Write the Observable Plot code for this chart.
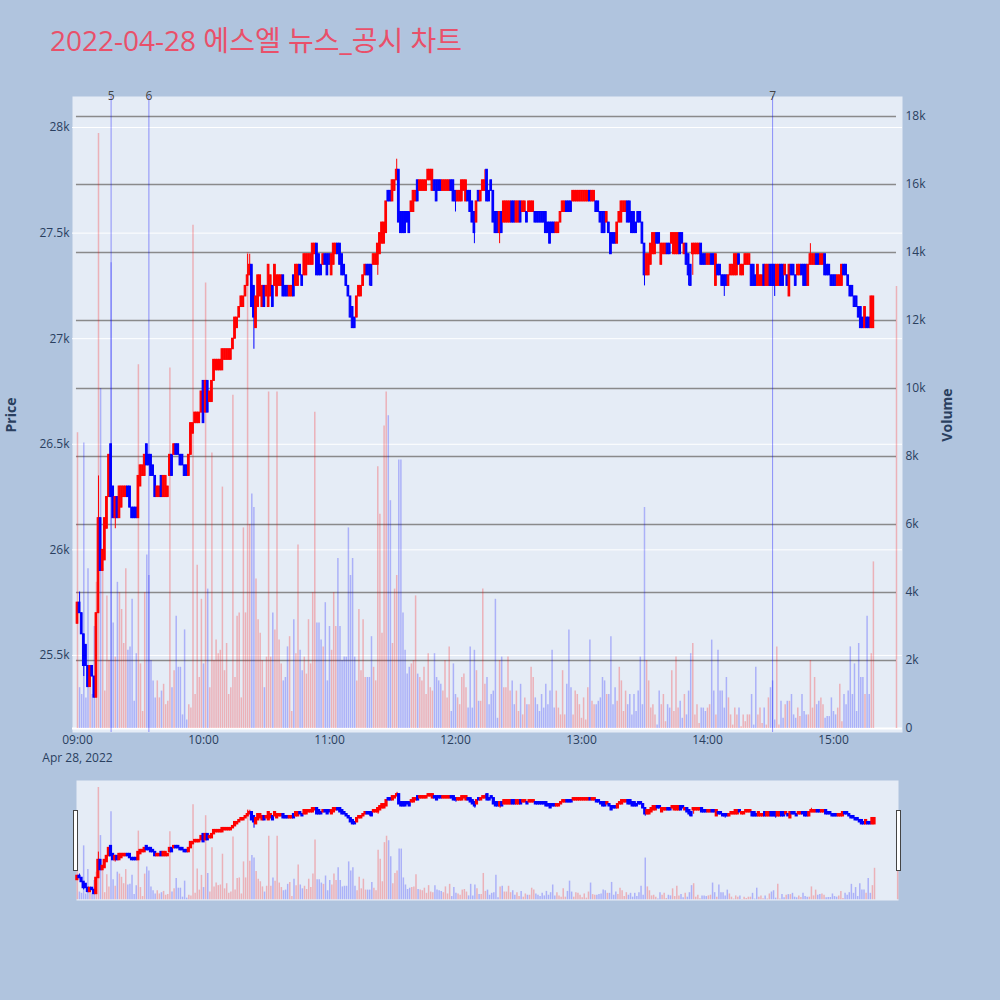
<!DOCTYPE html>
<html>
<head>
<meta charset="utf-8">
<script src="https://cdn.jsdelivr.net/npm/d3@7"></script>
<script src="https://cdn.jsdelivr.net/npm/@observablehq/plot@0.6"></script>
<style>
  body { margin: 0; background: #b0c4de; }
  #chart { position: relative; width: 1000px; height: 1000px; background: #b0c4de; font-family: "Open Sans", "Noto Sans CJK KR", sans-serif; overflow: hidden; }
  #chart svg { position: absolute; left: 0; }
  .title { position: absolute; left: 50px; top: 19px; font-size: 28px; color: #e9506a; white-space: nowrap; }
  .axis-title { position: absolute; font-size: 14px; font-weight: bold; color: #2a3f5f; transform: translate(-50%, -50%) rotate(-90deg); white-space: nowrap; }
  .handle { position: absolute; width: 3px; height: 59px; background: #fff; border: 1px solid #444; }
</style>
</head>
<body>
<div id="chart">
  <div class="title">2022-04-28 에스엘 뉴스_공시 차트</div>
  <div class="axis-title" style="left:10px; top:415px">Price</div>
  <div class="axis-title" style="left:946px; top:415px">Volume</div>
</div>
<script>
// one candle per minute from 09:00 (index = minutes after the open), plus the 15:30 closing auction
const opens = [
  25650,25750,25700,25600,25550,25450,25350,25450,25400,25300,
  25700,26150,25900,25950,26100,26250,26500,26300,26150,26250,
  26150,26200,26250,26250,26300,26300,26200,26200,26200,26150,
  26300,26350,26350,26500,26450,26450,26400,26350,26250,26250,
  26350,26250,26250,26250,26350,26450,26450,26500,26500,26450,
  26450,26400,26400,26350,26450,26550,26600,26600,26600,26650,
  26800,26650,26800,26700,26700,26800,26850,26850,26850,26850,
  26900,26900,26900,26900,26950,27000,27050,27100,27150,27150,
  27200,27250,27300,27350,27250,27050,27150,27200,27150,27250,
  27200,27150,27200,27250,27250,27200,27250,27250,27300,27250,
  27250,27200,27200,27300,27250,27250,27350,27300,27300,27300,
  27350,27350,27350,27400,27450,27400,27350,27350,27400,27400,
  27400,27300,27350,27400,27450,27450,27400,27350,27300,27250,
  27200,27150,27100,27100,27200,27200,27250,27300,27350,27350,
  27350,27350,27350,27350,27400,27450,27450,27500,27700,27700,
  27650,27700,27750,27800,27600,27600,27600,27600,27600,27600,
  27600,27650,27750,27700,27700,27700,27700,27750,27750,27700,
  27750,27750,27750,27750,27700,27700,27700,27700,27750,27750,
  27700,27650,27650,27650,27700,27650,27700,27700,27650,27600,
  27550,27700,27650,27700,27700,27800,27700,27750,27700,27600,
  27600,27500,27600,27550,27550,27550,27550,27650,27650,27550,
  27550,27650,27600,27600,27600,27600,27600,27600,27600,27600,
  27600,27600,27600,27600,27550,27550,27550,27550,27500,27500,
  27550,27600,27600,27650,27650,27650,27650,27650,27650,27650,
  27650,27650,27650,27650,27700,27650,27650,27650,27650,27600,
  27600,27600,27550,27550,27500,27500,27500,27450,27550,27550,
  27600,27600,27650,27650,27600,27600,27550,27600,27600,27550,
  27450,27300,27300,27350,27400,27400,27500,27500,27350,27400,
  27400,27450,27450,27450,27400,27400,27400,27500,27500,27400,
  27450,27400,27350,27400,27400,27400,27400,27450,27400,27400,
  27350,27350,27400,27400,27250,27350,27350,27300,27300,27300,
  27250,27300,27300,27300,27300,27400,27300,27300,27350,27350,
  27350,27350,27350,27300,27250,27250,27250,27350,27250,27250,
  27350,27350,27350,27250,27250,27350,27350,27300,27300,27200,
  27350,27350,27300,27300,27300,27350,27350,27350,27250,27350,
  27350,27350,27400,27400,27350,27350,27400,27350,27350,27300,
  27300,27300,27250,27250,27250,27350,27350,27300,27250,27250,
  27200,27200,27150,27150,27100,27050,27100,27100,27050,27050
];
const closes = [
  25750,25700,25600,25450,25450,25350,25450,25400,25300,25700,
  26150,25900,26000,26150,26250,26450,26250,26150,26250,26150,
  26300,26300,26300,26300,26250,26200,26150,26150,26150,26350,
  26400,26400,26450,26400,26400,26350,26350,26250,26300,26300,
  26250,26350,26350,26300,26450,26350,26500,26450,26450,26400,
  26400,26350,26350,26450,26600,26600,26650,26650,26650,26750,
  26600,26800,26650,26750,26800,26900,26900,26900,26900,26950,
  26950,26950,26950,26950,27000,27100,27100,27150,27200,27200,
  27250,27300,27350,27150,27100,27200,27300,27300,27250,27150,
  27250,27350,27300,27150,27350,27300,27300,27300,27200,27200,
  27200,27250,27250,27200,27350,27350,27300,27250,27400,27400,
  27400,27400,27450,27450,27300,27300,27300,27400,27350,27300,
  27350,27400,27450,27450,27400,27350,27300,27300,27250,27200,
  27100,27050,27050,27200,27250,27250,27300,27350,27300,27300,
  27250,27400,27400,27450,27500,27550,27550,27650,27650,27650,
  27750,27750,27800,27550,27500,27500,27500,27550,27500,27650,
  27700,27700,27650,27750,27750,27750,27750,27800,27800,27800,
  27700,27650,27700,27700,27750,27750,27750,27750,27700,27650,
  27650,27700,27700,27750,27750,27750,27650,27600,27550,27500,
  27650,27650,27700,27750,27750,27650,27650,27700,27550,27500,
  27500,27600,27500,27650,27650,27650,27650,27550,27550,27650,
  27650,27550,27650,27650,27550,27650,27650,27650,27550,27550,
  27550,27550,27550,27500,27500,27450,27500,27500,27550,27550,
  27600,27650,27650,27600,27600,27600,27700,27700,27700,27700,
  27700,27700,27700,27700,27650,27700,27700,27600,27600,27550,
  27500,27500,27600,27500,27400,27450,27450,27550,27600,27650,
  27650,27650,27550,27550,27500,27500,27500,27550,27550,27450,
  27300,27400,27400,27450,27500,27500,27450,27450,27450,27450,
  27450,27400,27400,27500,27500,27500,27500,27400,27450,27450,
  27350,27300,27250,27450,27450,27450,27450,27350,27350,27350,
  27400,27400,27350,27350,27400,27300,27300,27250,27250,27250,
  27300,27350,27350,27400,27400,27350,27350,27350,27400,27400,
  27400,27250,27250,27250,27350,27300,27300,27250,27350,27350,
  27250,27250,27250,27350,27350,27250,27250,27350,27250,27350,
  27300,27300,27250,27350,27350,27300,27250,27250,27350,27400,
  27400,27400,27350,27350,27400,27400,27300,27300,27300,27250,
  27250,27250,27300,27300,27350,27300,27300,27250,27200,27200,
  27150,27150,27100,27050,27050,27150,27050,27050,27200,27200
];
const volumes = [
  8700,1200,1000,8400,900,4700,1200,1000,3000,4300,
  17500,10000,4700,1100,3900,2000,13700,3100,2100,4300,
  4000,3500,2500,4700,2300,2400,3800,800,2200,10700,
  1900,500,4000,5100,4500,2000,1400,900,1400,900,
  1100,1300,700,800,10600,1200,1700,3300,1800,1800,
  400,2900,250,700,600,14800,1000,4800,1500,3800,
  1900,13100,4100,1200,8100,2000,2600,2200,2300,7100,
  1700,2500,1000,1200,9800,1500,3300,3400,900,5900,
  3400,14000,6000,6900,6500,4400,3200,2800,2000,1200,
  2100,9900,2100,3400,2900,9900,2600,1900,1400,1500,
  2400,2700,500,3200,2200,5400,2300,1700,2100,1600,
  3200,1900,4000,9300,3100,3100,2600,2400,3700,1400,
  3000,2300,4000,3000,5000,3000,2000,2100,2100,5900,
  4500,5000,2100,1400,3500,1700,3200,1500,1500,1500,
  2700,1800,1400,7700,6300,2800,8900,9900,9200,6700,
  2500,4100,4500,7900,7900,3400,2300,1600,1800,1900,
  2000,3900,1600,1500,1400,1800,1000,2200,1200,1100,
  2200,1500,1400,1300,1100,2000,900,2400,500,1900,
  1000,900,700,1500,1600,1200,600,2400,600,2300,
  1700,800,800,4100,1300,1500,700,1000,1100,3800,
  300,2000,2100,1200,1200,2100,1100,1400,700,1100,
  500,1300,400,900,700,700,1800,1500,900,700,
  500,1000,600,1300,700,1100,2300,600,1100,600,
  400,1700,400,1300,2900,1200,400,1100,1000,700,
  300,900,250,1200,2600,800,700,700,800,900,
  1500,1400,1000,1000,2700,700,1200,800,1800,1400,
  500,1100,700,1000,400,1000,500,1100,2100,700,
  6500,2000,1400,600,700,400,100,1100,700,1000,
  200,700,600,1700,500,2100,600,800,300,1000,
  400,1100,2200,2500,400,700,150,600,600,500,
  600,700,2600,1100,400,2300,1100,1100,600,1500,
  900,400,100,600,400,600,50,400,200,400,
  400,1000,100,1800,400,600,150,600,100,900,
  1200,1400,250,2400,100,800,300,700,800,800,
  1000,400,300,600,350,1000,500,400,400,2000,
  600,1500,700,800,900,700,300,350,350,900,
  500,400,600,1300,200,1000,700,1100,2400,1000,
  1900,500,2500,1500,1500,1000,3300,1000,2200,4900
];
const auction = {minute: 390, open: 27300, close: 27300, volume: 13000};
// [minute, low, high] where the shadow reaches past the body
const wicks = [
  [1, 25700, 25800], [3, 25400, 25600], [10, 25700, 26350], [18, 26100, 26250],
  [81, 27250, 27400], [82, 27300, 27400], [84, 26950, 27250], [139, 27250, 27350],
  [143, 27300, 27450], [152, 27750, 27850], [180, 27600, 27700], [189, 27450, 27600],
  [194, 27700, 27800], [201, 27450, 27600], [270, 27250, 27450], [291, 27250, 27400],
  [293, 27300, 27450], [308, 27200, 27300], [332, 27200, 27350], [349, 27350, 27450]
];

const priceTicks = [25500, 26000, 26500, 27000, 27500, 28000];
const volumeTicks = [0, 2000, 4000, 6000, 8000, 10000, 12000, 14000, 16000, 18000];
const timeTicks = ["09:00", "10:00", "11:00", "12:00", "13:00", "14:00", "15:00"];
const dateLabel = "Apr 28, 2022";
const markerLabels = ["5", "6", "7"];
const markerTimes = ["09:16", "09:34", "14:31"];

const BASE = Date.UTC(2022, 3, 28, 9, 0);
const at = m => new Date(BASE + m * 60000);
const parseTime = s => { const [h, mm] = s.split(":").map(Number); return at((h - 9) * 60 + mm); };

const candles = opens.map((o, m) => ({t: at(m), open: o, close: closes[m], volume: volumes[m]}));
candles.push({t: at(auction.minute), open: auction.open, close: auction.close, volume: auction.volume});
for (const d of candles) {
  d.low = Math.min(d.open, d.close);
  d.high = Math.max(d.open, d.close);
  d.dir = d.close >= d.open ? "up" : "down";
}
for (const [m, lo, hi] of wicks) { candles[m].low = lo; candles[m].high = hi; }

const markers = markerLabels.map((label, i) => ({label, t: parseTime(markerTimes[i])}));
const hours = timeTicks.map(parseTime);

const RED = "#ff0000", BLUE = "#0000ff";
const color = {domain: ["up", "down"], range: [RED, BLUE]};
const priceDomain = [25135, 28147];
const volumeDomain = [-118, 18588];
const xMain = {type: "utc", domain: [at(-2.38), at(392.86)]};
const xSlider = {type: "utc", domain: [at(-0.4), at(390.4)], axis: null};
const halfBody = 24000; // ms

const mainDims = {width: 1000, height: 770, marginTop: 96, marginRight: 98, marginBottom: 38, marginLeft: 72};
const sliderDims = {width: 1000, height: 130, marginTop: 5, marginRight: 102, marginBottom: 5, marginLeft: 76};
const style = {background: "transparent", fontFamily: "'Open Sans', sans-serif", fontSize: "12px", color: "#2a3f5f", overflow: "visible"};

const bodyMarks = sw => [
  Plot.ruleX(candles, {x: "t", y1: "low", y2: "high", stroke: "dir", strokeWidth: 1}),
  Plot.rect(candles, {
    x1: d => new Date(+d.t - halfBody), x2: d => new Date(+d.t + halfBody),
    y1: "open", y2: "close", fill: "dir", stroke: "dir", strokeWidth: sw
  })
];

const priceBase = Plot.plot({
  ...mainDims, style, x: xMain, y: {domain: priceDomain},
  marks: [
    Plot.frame({fill: "#e5ecf6", stroke: null}),
    Plot.ruleY(priceTicks, {stroke: "#ffffff", strokeWidth: 1}),
    Plot.axisY(priceTicks, {anchor: "left", tickSize: 0, tickPadding: 3, tickFormat: d3.format("~s"), label: null}),
    Plot.axisX(hours, {anchor: "bottom", tickSize: 0, tickPadding: 3, tickFormat: d3.utcFormat("%H:%M"), label: null}),
    Plot.text([dateLabel], {x: () => hours[0], text: d => d, frameAnchor: "bottom", dy: 29, fill: "#2a3f5f", fontSize: 12})
  ]
});

const volumeLayer = Plot.plot({
  ...mainDims, style, x: {...xMain, axis: null}, y: {domain: volumeDomain}, color,
  marks: [
    Plot.ruleY(volumeTicks.slice(1), {x1: () => at(-0.5), x2: () => at(390), stroke: "#808080", strokeOpacity: 0.9, strokeWidth: 1.3}),
    Plot.ruleY([0], {stroke: "#ffffff", strokeWidth: 2}),
    Plot.ruleX(candles, {x: "t", y1: 0, y2: "volume", stroke: "dir", strokeOpacity: 0.25, strokeWidth: 1.5}),
    Plot.ruleX(markers, {x: "t", stroke: BLUE, strokeOpacity: 0.4, strokeWidth: 1}),
    Plot.text(markers, {x: "t", text: "label", frameAnchor: "top", lineAnchor: "middle", fill: "#444", fontSize: 12}),
    Plot.axisY(volumeTicks, {anchor: "right", tickSize: 0, tickPadding: 3, tickFormat: d3.format("~s"), label: null})
  ]
});

const candleLayer = Plot.plot({
  ...mainDims, style, x: {...xMain, axis: null}, y: {domain: priceDomain, axis: null}, color,
  marks: bodyMarks(1)
});

const sliderVolume = Plot.plot({
  ...sliderDims, style, x: xSlider, y: {domain: volumeDomain, axis: null}, color,
  marks: [
    Plot.frame({fill: "#e5ecf6", stroke: null}),
    Plot.ruleX(candles, {x: "t", y1: 0, y2: "volume", stroke: "dir", strokeOpacity: 0.25, strokeWidth: 1.5})
  ]
});

const sliderCandles = Plot.plot({
  ...sliderDims, style, x: xSlider, y: {domain: priceDomain, axis: null}, color,
  marks: bodyMarks(1.5)
});

const chart = document.getElementById("chart");
for (const svg of [priceBase, volumeLayer, candleLayer]) { svg.style.top = "0px"; chart.append(svg); }
for (const svg of [sliderVolume, sliderCandles]) { svg.style.top = "775px"; chart.append(svg); }
for (const left of [73, 896]) {
  const h = document.createElement("div");
  h.className = "handle";
  h.style.left = left + "px";
  h.style.top = "810px";
  chart.append(h);
}
</script>
</body>
</html>
